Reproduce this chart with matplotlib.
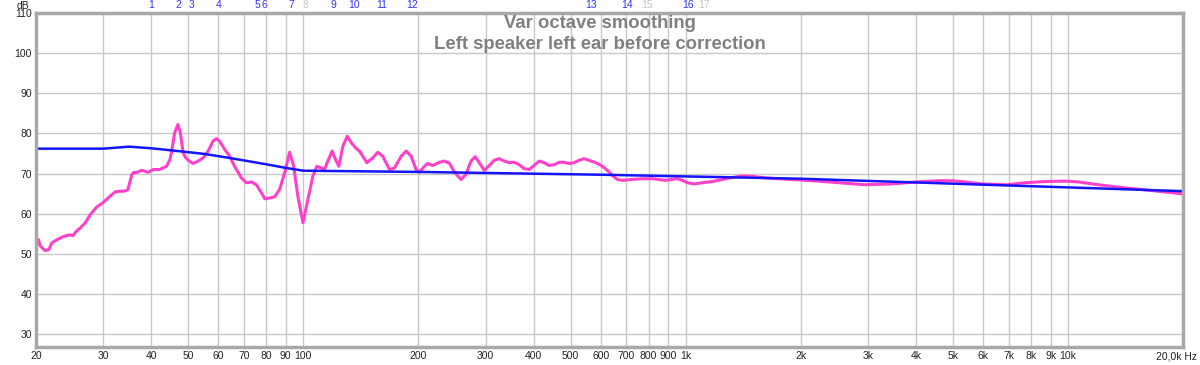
import matplotlib
matplotlib.use('Agg')
import matplotlib.pyplot as plt
from matplotlib.transforms import ScaledTranslation

plt.rcParams['font.family'] = ['Liberation Sans', 'DejaVu Sans']

# measured response (Hz, dB)
meas_freq = [20.0, 20.3, 20.5, 21.1, 21.6, 22.0, 22.7, 23.6, 24.5, 25.0, 25.5, 26.1, 26.9, 27.7,
             28.8, 30.0, 31.2, 32.2, 33.1, 34.1, 34.8, 35.6, 36.1, 36.6, 37.8, 39.3, 40.5, 42.1,
             43.9, 44.8, 45.2, 46.1, 47.0, 47.7, 48.5, 49.3, 50.3, 51.5, 53.1, 54.7, 56.4, 58.1,
             59.3, 60.4, 62.3, 64.2, 66.1, 68.9, 71.0, 73.2, 75.4, 77.7, 79.3, 81.7, 84.2, 86.7,
             89.4, 92.1, 94.3, 96.8, 99.8, 102.8, 105.9, 108.5, 111.4, 113.6, 115.9, 119.0, 121.4,
             123.9, 126.9, 130.3, 133.5, 137.6, 140.3, 146.6, 152.0, 156.6, 161.4, 168.1, 173.2,
             180.3, 185.8, 191.5, 197.2, 201.2, 207.4, 211.5, 218.0, 226.9, 233.9, 241.0, 248.4,
             258.5, 266.4, 274.5, 281.7, 288.5, 297.4, 306.5, 315.8, 325.5, 335.4, 345.6, 356.1,
             367.0, 378.2, 389.7, 401.6, 413.9, 426.5, 439.5, 452.9, 466.7, 480.9, 495.6, 510.7,
             526.2, 542.3, 558.8, 582.1, 605.7, 624.2, 643.2, 662.8, 683.0, 718.5, 770.3, 818.2,
             851.7, 886.7, 913.8, 951.2, 980.3, 1010, 1052, 1106, 1174, 1247, 1323, 1405, 1492,
             1617, 1976, 2229, 2514, 2952, 3462, 3987, 4585, 4969, 5383, 5950, 6914, 7723, 8711,
             9826, 10640, 12000, 13530, 15570, 17920, 20000]
meas_db = [53.7, 53.5, 52.0, 50.8, 51.0, 52.7, 53.5, 54.3, 54.7, 54.5, 55.6, 56.4, 57.7, 59.7,
           61.6, 62.8, 64.3, 65.4, 65.6, 65.6, 66.0, 69.7, 70.3, 70.2, 70.8, 70.3, 71.0, 71.0,
           71.8, 73.5, 75.2, 80.2, 82.2, 80.2, 75.2, 73.9, 73.1, 72.5, 73.1, 73.9, 75.6, 78.1,
           78.7, 78.1, 76.0, 74.3, 71.8, 68.9, 67.7, 67.9, 67.2, 65.2, 63.7, 63.9, 64.2, 66.0,
           70.2, 75.3, 72.0, 64.3, 57.7, 63.5, 69.3, 71.8, 71.4, 71.0, 73.1, 75.6, 73.5,
           71.8, 76.8, 79.3, 77.7, 76.2, 75.6, 72.7, 73.9, 75.3, 74.3, 71.0, 71.4,
           74.3, 75.6, 74.3, 71.0, 70.3, 71.8, 72.5, 72.0, 72.8, 73.1, 72.6, 70.4,
           68.5, 69.8, 73.1, 74.2, 72.7, 70.8, 72.0, 73.3, 73.7, 73.1, 72.7, 72.8,
           72.2, 71.2, 71.0, 72.0, 73.1, 72.7, 72.0, 72.2, 72.8, 72.8, 72.5, 72.7,
           73.3, 73.7, 73.3, 72.7, 71.8, 70.8, 69.5, 68.5, 68.3, 68.5, 68.7, 68.7,
           68.5, 68.3, 68.5, 68.7, 68.3, 67.7, 67.4, 67.7, 68.0, 68.5, 69.0, 69.4, 69.3,
           68.9, 68.4, 68.1, 67.7, 67.2, 67.4, 67.9, 68.2, 68.2, 67.9, 67.4, 67.2, 67.7, 68.0,
           68.1, 67.9, 67.2, 66.6, 66.0, 65.4, 64.9]

# target curve (Hz, dB)
target_freq = [20, 30, 35, 40, 47, 55, 64, 80, 90, 100, 200, 600, 2000, 20000]
target_db = [76.2, 76.2, 76.7, 76.3, 75.6, 74.9, 73.9, 72.3, 71.4, 70.7, 70.4, 69.7, 68.7, 65.6]

# filter markers along the top
marker_freq = [40, 47, 51, 60, 76, 79, 93, 101, 120, 136, 160, 192, 566, 703, 793, 1014, 1117]
marker_on = [1, 1, 1, 1, 1, 1, 1, 0, 1, 1, 1, 1, 1, 1, 0, 1, 0]

xticks = [20, 30, 40, 50, 60, 70, 80, 90, 100, 200, 300, 400, 500, 600, 700, 800, 900,
          1000, 2000, 3000, 4000, 5000, 6000, 7000, 8000, 9000, 10000, 20000]
xticklabels = ['20', '30', '40', '50', '60', '70', '80', '90', '100', '200', '300', '400',
               '500', '600', '700', '800', '900', '1k', '2k', '3k', '4k', '5k', '6k', '7k',
               '8k', '9k', '10k', '20,0k Hz']
yticks = [30, 40, 50, 60, 70, 80, 90, 100, 110]

fig = plt.figure(figsize=(12, 3.65), dpi=100)
ax = fig.add_axes([0.030, 0.049, 0.956, 0.915])
ax.set_xscale('log')
ax.set_xlim(20, 20000)
ax.set_ylim(26.7, 110)

ax.set_xticks(xticks)
ax.set_xticklabels(xticklabels)
ax.minorticks_off()
ax.set_yticks(yticks)
ax.tick_params(length=0, labelsize=7.5, colors='#222222', pad=3)
ax.grid(True, color='#c8c8c8', linewidth=1)
ax.set_axisbelow(True)
for s in ax.spines.values():
    s.set_color('#a8a8a8')
    s.set_linewidth(2.5)

# last label sits right of its tick, like the original
last = ax.get_xticklabels()[-1]
last.set_horizontalalignment('right')
last.set_transform(last.get_transform() + ScaledTranslation(14 / 100, 0, fig.dpi_scale_trans))

ax.plot(meas_freq, meas_db, color='#ff40c8', linewidth=2.2, solid_joinstyle='round')
ax.plot(target_freq, target_db, color='#1414ff', linewidth=1.8)

for i, (f, on) in enumerate(zip(marker_freq, marker_on)):
    ax.text(f, 1.008, str(i + 1), transform=ax.get_xaxis_transform(), ha='center',
            va='bottom', fontsize=7.5, color='#3333ee' if on else '#c4c4c4')

fig.text(0.024, 0.998, 'dB', fontsize=7.5, color='#222222', ha='right', va='top')
fig.text(0.5, 0.935, 'Var octave smoothing', fontsize=13.3, fontweight='bold',
         color='#808080', ha='center', va='center')
fig.text(0.5, 0.878, 'Left speaker left ear before correction', fontsize=13.3,
         fontweight='bold', color='#808080', ha='center', va='center')

fig.savefig('out.png', dpi=100)
